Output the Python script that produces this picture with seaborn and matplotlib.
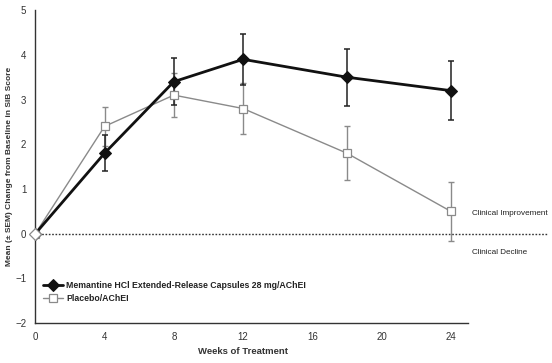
import numpy as np
import pandas as pd
import matplotlib
matplotlib.use("Agg")
import matplotlib.pyplot as plt
import seaborn as sns

# data
weeks = [0, 4, 8, 12, 18, 24]
memantine = [0, 1.8, 3.4, 3.9, 3.5, 3.2]
memantine_sem = [0, 0.4, 0.52, 0.57, 0.64, 0.66]
placebo = [0, 2.4, 3.1, 2.8, 1.8, 0.5]
placebo_sem = [0, 0.43, 0.49, 0.57, 0.61, 0.66]

mem_label = "Memantine HCl Extended-Release Capsules 28 mg/AChEI"
pla_label = "Placebo/AChEI"

df = pd.DataFrame({
    "week": weeks * 2,
    "change": memantine + placebo,
    "group": [mem_label] * len(weeks) + [pla_label] * len(weeks),
})

sns.set_style("white")
plt.rcParams['font.family'] = ['Liberation Sans', 'DejaVu Sans']

fig = plt.figure(figsize=(5.52, 3.63), dpi=100)
ax = fig.add_axes([0.064, 0.110, 0.784, 0.862])

# error bars first so markers sit on top
ax.errorbar(weeks[1:], placebo[1:], yerr=placebo_sem[1:], fmt="none",
            ecolor="#8a8a8a", elinewidth=1, capsize=2.5, capthick=1, zorder=2)
ax.errorbar(weeks[1:], memantine[1:], yerr=memantine_sem[1:], fmt="none",
            ecolor="#222222", elinewidth=1.1, capsize=2.5, capthick=1.1, zorder=3)

sns.lineplot(data=df[df.group == pla_label], x="week", y="change", ax=ax,
             color="#8a8a8a", linewidth=1, marker="s", markersize=6,
             markerfacecolor="white", markeredgecolor="#8a8a8a",
             markeredgewidth=0.9, label=pla_label, zorder=4)
sns.lineplot(data=df[df.group == mem_label], x="week", y="change", ax=ax,
             color="#111111", linewidth=2, marker="D", markersize=6.5,
             markerfacecolor="#111111", markeredgecolor="#111111",
             label=mem_label, zorder=5)
# baseline point is drawn open
ax.plot(weeks[0], memantine[0], marker="D", markersize=6.5, color="#8a8a8a",
        markerfacecolor="white", markeredgewidth=0.9, clip_on=False, zorder=6)

# zero reference line runs past the axes
ax.plot([0, 29.6], [0, 0], linestyle=(0, (1.2, 1.2)), color="#333333",
        linewidth=1, clip_on=False, zorder=1)
ax.text(25.2, 0.45, "Clinical Improvement", fontsize=5.9, va="center",
        ha="left", color="#222222")
ax.text(25.2, -0.42, "Clinical Decline", fontsize=5.9, va="center",
        ha="left", color="#222222")

ax.set_xlim(0, 25)
ax.set_ylim(-2, 5)
ax.set_xticks([0, 4, 8, 12, 16, 20, 24])
ax.set_yticks(range(-2, 6))
ax.tick_params(axis="both", labelsize=7, length=3, width=0.8,
               direction="inout", color="#333333", labelcolor="#333333", pad=5)
for s in ["top", "right"]:
    ax.spines[s].set_visible(False)
for s in ["left", "bottom"]:
    ax.spines[s].set_color("#333333")
    ax.spines[s].set_linewidth(1)

ax.set_xlabel("Weeks of Treatment", fontsize=6.8, fontweight="bold",
              color="#333333")
ax.xaxis.set_label_coords(12 / 25, -0.075)
ax.set_ylabel("Mean (\u00b1 SEM) Change from Baseline in SIB Score", fontsize=6,
              fontweight="bold", color="#333333")
ax.yaxis.set_label_coords(-0.052, 0.5)

handles, labels = ax.get_legend_handles_labels()
order = [labels.index(mem_label), labels.index(pla_label)]
leg = ax.legend([handles[i] for i in order], [labels[i] for i in order],
                loc="upper left", bbox_to_anchor=(0.01, 0.145), frameon=False,
                fontsize=6.3, handlelength=2.3, handletextpad=0.35,
                labelspacing=0.45, borderaxespad=0)
for t in leg.get_texts():
    t.set_fontweight("bold")
    t.set_color("#222222")

fig.savefig("out.png", dpi=100)
